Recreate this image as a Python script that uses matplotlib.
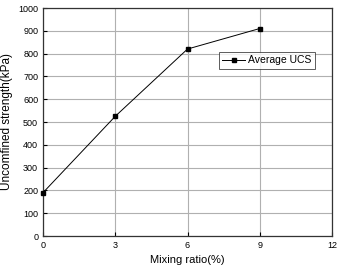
import matplotlib
matplotlib.use("Agg")
import matplotlib.pyplot as plt

plt.rcParams['font.family'] = ['Liberation Sans', 'DejaVu Sans']

mixing_ratio = [0, 3, 6, 9]
avg_ucs = [190, 525, 820, 910]
x_ticks = [0, 3, 6, 9, 12]
y_ticks = list(range(0, 1001, 100))

fig = plt.figure(figsize=(3.4, 2.66), dpi=100)
ax = fig.add_axes([43 / 340, 1 - 236 / 266, 289 / 340, 228 / 266])

ax.plot(mixing_ratio, avg_ucs, color="black", lw=0.7, marker="s",
        markersize=3.2, label="Average UCS", clip_on=False, zorder=3)

ax.set_xlim(0, 12)
ax.set_ylim(0, 1000)
ax.set_xticks(x_ticks)
ax.set_yticks(y_ticks)
ax.tick_params(direction="in", labelsize=6.5, length=3, width=0.8)
ax.grid(True, color="#b0b0b0", lw=0.8)
for s in ax.spines.values():
    s.set_linewidth(0.9)
    s.set_color("#333333")

ax.set_xlabel("Mixing ratio(%)", fontsize=8, labelpad=4)
ax.set_ylabel("Uncomfined strength(kPa)", fontsize=8.5, labelpad=4)

leg = ax.legend(loc="center", bbox_to_anchor=(0.775, 0.77), fontsize=7.5,
                frameon=True, fancybox=False, edgecolor="#333333",
                borderpad=0.3, handlelength=2.2, handletextpad=0.3)
leg.get_frame().set_linewidth(0.7)

fig.savefig("out.png", dpi=100)
